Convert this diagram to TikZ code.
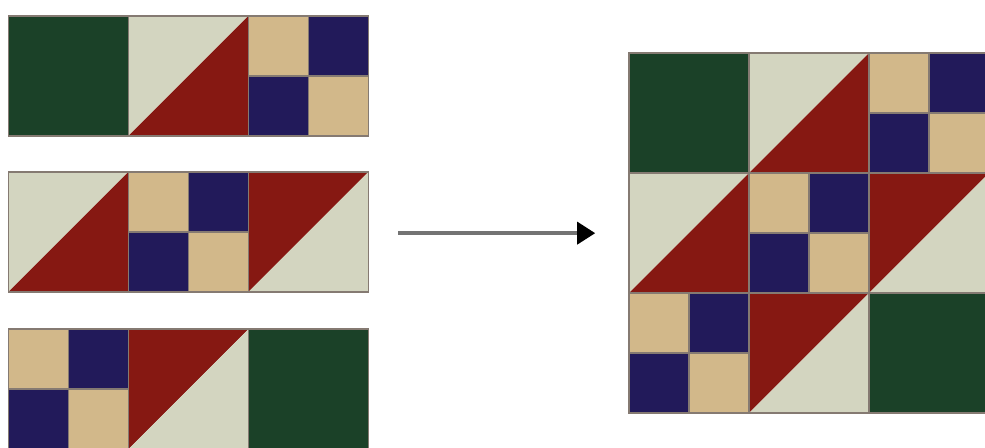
\documentclass[tikz,border=0pt]{standalone}
\usetikzlibrary{arrows.meta}
\definecolor{quilt green}{HTML}{1B4128}
\definecolor{quilt cream}{HTML}{D3D5C0}
\definecolor{quilt red}{HTML}{861812}
\definecolor{quilt tan}{HTML}{D2B88A}
\definecolor{quilt navy}{HTML}{221A5A}
\definecolor{seam}{HTML}{857A72}
\tikzset{patch/.style={draw=seam, line width=0.4pt}}
\tikzset{sewing arrow/.style={draw=black!55, line width=1pt, -{Triangle[length=1.8mm, width=2.2mm, color=black]}}}

% one square of cloth
\newcommand{\solidpatch}[3]{\filldraw[patch, fill=#3] (#1,#2) rectangle ++(1,1);}
% half square triangle: upper-left colour, lower-right colour
\newcommand{\hstpatch}[4]{%
  \fill[#3] (#1,#2) -- ++(0,1) -- ++(1,0) -- cycle;
  \fill[#4] (#1,#2) -- ++(1,0) -- ++(0,1) -- cycle;
  \draw[patch] (#1,#2) rectangle ++(1,1);}
% four patch, tan on the falling diagonal
\newcommand{\fourpatch}[2]{%
  \begin{scope}[shift={(#1,#2)}]
    \filldraw[patch, fill=quilt tan] (0,0.5) rectangle (0.5,1);
    \filldraw[patch, fill=quilt navy] (0.5,0.5) rectangle (1,1);
    \filldraw[patch, fill=quilt navy] (0,0) rectangle (0.5,0.5);
    \filldraw[patch, fill=quilt tan] (0.5,0) rectangle (1,0.5);
  \end{scope}}

\begin{document}
\begin{tikzpicture}[x=1.2cm, y=1.2cm]
  \useasboundingbox (0,0) rectangle (8.208,3.733);
  % the three strips
  \solidpatch{0.07}{2.6}{quilt green}
  \hstpatch{1.07}{2.6}{quilt cream}{quilt red}
  \fourpatch{2.07}{2.6}
  \hstpatch{0.07}{1.3}{quilt cream}{quilt red}
  \fourpatch{1.07}{1.3}
  \hstpatch{2.07}{1.3}{quilt red}{quilt cream}
  \fourpatch{0.07}{-0.01}
  \hstpatch{1.07}{-0.01}{quilt red}{quilt cream}
  \solidpatch{2.07}{-0.01}{quilt green}
  % sewn together
  \coordinate (arrow tail) at (3.32,1.79);
  \coordinate (arrow head) at (4.96,1.79);
  \draw[sewing arrow] (arrow tail) -- (arrow head);
  % the finished block
  \solidpatch{5.24}{2.29}{quilt green}
  \hstpatch{6.24}{2.29}{quilt cream}{quilt red}
  \fourpatch{7.24}{2.29}
  \hstpatch{5.24}{1.29}{quilt cream}{quilt red}
  \fourpatch{6.24}{1.29}
  \hstpatch{7.24}{1.29}{quilt red}{quilt cream}
  \fourpatch{5.24}{0.29}
  \hstpatch{6.24}{0.29}{quilt red}{quilt cream}
  \solidpatch{7.24}{0.29}{quilt green}
\end{tikzpicture}
\end{document}
